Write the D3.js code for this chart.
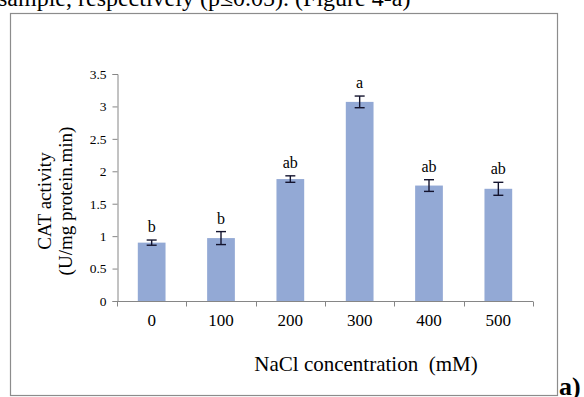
<!DOCTYPE html>
<html>
<head>
<meta charset="utf-8">
<script src="https://cdn.jsdelivr.net/npm/d3@7"></script>
<style>
  body { margin: 0; background: #fff; }
  svg { display: block; }
  svg text { font-family: "Liberation Serif", "Times New Roman", serif; }
</style>
</head>
<body>
<div id="chart"></div>
<script>
const categories = ["0", "100", "200", "300", "400", "500"];
const values = [0.9, 0.97, 1.88, 3.07, 1.78, 1.73];
const errors = [0.04, 0.1, 0.05, 0.09, 0.09, 0.1];
const letters = ["b", "b", "ab", "a", "ab", "ab"];
const yTicks = [0, 0.5, 1, 1.5, 2, 2.5, 3, 3.5];

const width = 584;
const height = 397;
const barFill = "#93a9d5";
const axisColor = "#868686";

const svg = d3.select("#chart")
    .append("svg")
    .attr("width", width)
    .attr("height", height);

svg.append("rect")
    .attr("width", width)
    .attr("height", height)
    .attr("fill", "#fff");

// line of body text cut off above the figure
svg.append("text")
    .attr("x", -2)
    .attr("y", 6)
    .style("font-size", "24px")
    .attr("fill", "#000")
    .text("sample, respectively (p\u22640.05). (Figure 4-a)");

// chart frame
svg.append("rect")
    .attr("x", 10.5)
    .attr("y", 13.5)
    .attr("width", 547)
    .attr("height", 382)
    .attr("fill", "#fff")
    .attr("stroke", "#8c8c8c")
    .attr("stroke-width", 1.2);

const x = d3.scaleBand()
    .domain(categories)
    .range([117, 533]);

const y = d3.scaleLinear()
    .domain([0, 3.5])
    .range([301, 74]);

// y axis
const yAxis = svg.append("g")
    .attr("transform", "translate(117.5,0)")
    .call(d3.axisLeft(y).tickValues(yTicks).tickSize(5).tickPadding(6)
        .tickFormat(d => String(d)));
yAxis.attr("font-family", null);
yAxis.selectAll("line, path").attr("stroke", axisColor);
yAxis.selectAll("text")
    .style("font-size", "13.5px")
    .attr("fill", "#000");

// x axis with ticks between categories
const xAxis = svg.append("g")
    .attr("transform", "translate(0,301.5)");
xAxis.append("line")
    .attr("x1", x.range()[0])
    .attr("x2", x.range()[1])
    .attr("stroke", axisColor);
xAxis.selectAll("line.tick")
    .data(categories.map(c => x(c)).concat([x.range()[1]]))
    .enter()
    .append("line")
    .attr("class", "tick")
    .attr("x1", d => Math.round(d) + 0.5)
    .attr("x2", d => Math.round(d) + 0.5)
    .attr("y1", 0)
    .attr("y2", 5)
    .attr("stroke", axisColor);
xAxis.selectAll("text")
    .data(categories)
    .enter()
    .append("text")
    .attr("x", d => x(d) + x.bandwidth() / 2)
    .attr("y", 24)
    .attr("text-anchor", "middle")
    .style("font-size", "17px")
    .attr("fill", "#000")
    .text(d => d);

// bars
const barW = x.bandwidth() * 0.4;
const data = categories.map((c, i) => ({
    cat: c, value: values[i], err: errors[i], letter: letters[i]
}));

svg.selectAll("rect.bar")
    .data(data)
    .enter()
    .append("rect")
    .attr("class", "bar")
    .attr("x", d => x(d.cat) + (x.bandwidth() - barW) / 2)
    .attr("y", d => y(d.value))
    .attr("width", barW)
    .attr("height", d => y(0) - y(d.value))
    .attr("fill", barFill);

// error bars
const eb = svg.selectAll("g.err")
    .data(data)
    .enter()
    .append("g")
    .attr("class", "err")
    .attr("stroke", "#14142e")
    .attr("stroke-width", 1.4);
const cx = d => x(d.cat) + x.bandwidth() / 2;
eb.append("line")
    .attr("x1", cx).attr("x2", cx)
    .attr("y1", d => y(d.value - d.err))
    .attr("y2", d => y(d.value + d.err));
eb.append("line")
    .attr("x1", d => cx(d) - 5).attr("x2", d => cx(d) + 5)
    .attr("y1", d => y(d.value + d.err))
    .attr("y2", d => y(d.value + d.err));
eb.append("line")
    .attr("x1", d => cx(d) - 5).attr("x2", d => cx(d) + 5)
    .attr("y1", d => y(d.value - d.err))
    .attr("y2", d => y(d.value - d.err));

// significance letters
svg.selectAll("text.letter")
    .data(data)
    .enter()
    .append("text")
    .attr("class", "letter")
    .attr("x", cx)
    .attr("y", d => y(d.value + d.err) - 8)
    .attr("text-anchor", "middle")
    .style("font-size", "16px")
    .attr("fill", "#000")
    .text(d => d.letter);

// axis titles
svg.append("text")
    .attr("x", 366)
    .attr("y", 371)
    .attr("text-anchor", "middle")
    .style("font-size", "21px")
    .style("white-space", "pre")
    .attr("fill", "#000")
    .text("NaCl concentration  (mM)");

const yTitle = svg.append("text")
    .attr("transform", "translate(0,201) rotate(-90)")
    .attr("text-anchor", "middle")
    .style("font-size", "19px")
    .attr("fill", "#000");
yTitle.append("tspan").attr("x", 0).attr("y", 51).text("CAT activity");
yTitle.append("tspan").attr("x", 0).attr("y", 72).text("(U/mg protein.min)");

// panel label
svg.append("text")
    .attr("x", 559)
    .attr("y", 395)
    .style("font-size", "26px")
    .style("font-weight", "bold")
    .attr("fill", "#000")
    .text("a)");
</script>
</body>
</html>
